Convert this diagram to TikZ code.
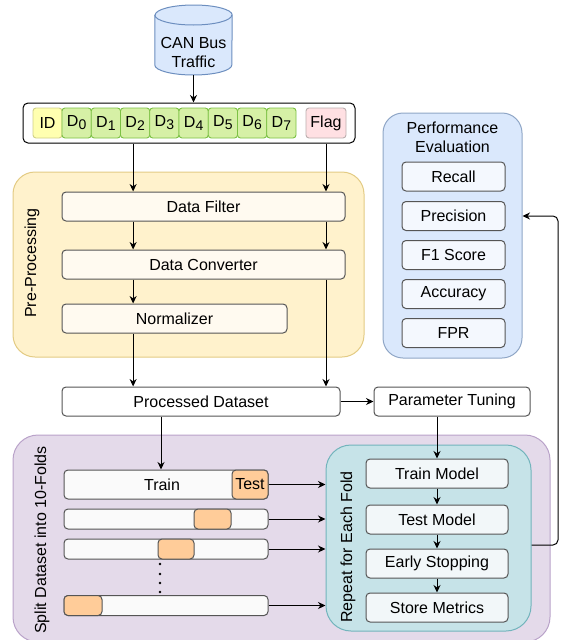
\documentclass[tikz,border=0pt]{standalone}
\usepackage{fontspec}
\setmainfont{Liberation Sans}
\usepackage{tikz}
\usetikzlibrary{calc, arrows.meta, positioning}

\definecolor{canfill}{HTML}{DAE8FC}
\definecolor{canline}{HTML}{6C8EBF}
\definecolor{idfill}{HTML}{FFFFB0}
\definecolor{idline}{HTML}{D0D088}
\definecolor{dfill}{HTML}{D6F0A6}
\definecolor{dline}{HTML}{7CC144}
\definecolor{flagfill}{HTML}{FFE0E3}
\definecolor{flagline}{HTML}{BBAFAF}
\definecolor{prefill}{HTML}{FFF2CC}
\definecolor{preline}{HTML}{E3CB84}
\definecolor{stepfill}{HTML}{FFFAF0}
\definecolor{perffill}{HTML}{DAE8FC}
\definecolor{perfline}{HTML}{8FA6C6}
\definecolor{metfill}{HTML}{F4F8FE}
\definecolor{splitfill}{HTML}{E4DAEA}
\definecolor{splitline}{HTML}{B9A2C9}
\definecolor{foldfill}{HTML}{FAFAFA}
\definecolor{testfill}{HTML}{FFCC99}
\definecolor{repfill}{HTML}{C6E3E8}
\definecolor{repline}{HTML}{72B4BC}
\definecolor{modfill}{HTML}{F2F7F9}
\definecolor{edge}{HTML}{555555}

\newcommand{\fsz}{\fontsize{16}{19}\selectfont}
\newcommand{\dsub}[1]{\raisebox{-3pt}{\fontsize{14}{14}\selectfont #1}}

\tikzset{
  txt/.style={font=\fsz, inner sep=0pt},
  group/.style={txt, draw=#1, line width=1pt, rounded corners=22pt},
  cell/.style={txt, draw, line width=0.9pt, rounded corners=3pt, minimum width=29.25pt, minimum height=30pt},
  stepbox/.style={txt, draw=edge, line width=1pt, rounded corners=4pt, minimum height=29pt},
  flow/.style={-{Stealth[length=7.5pt,width=7pt]}, line width=1pt},
}

\begin{document}
\begin{tikzpicture}[x=1pt, y=-1pt]
  \useasboundingbox (0,0) rectangle (561,640);
  \clip (0,0) rectangle (561,640);

  % source
  \node[txt, minimum width=77pt, minimum height=70pt] (can) at (193.5,40) {};
  \draw[draw=canline, fill=canfill, line width=1pt] (can.west |- 0,15) -- (can.west |- 0,65)
      arc (180:360:38.5pt and 10pt) -- (can.east |- 0,15) arc (0:180:38.5pt and 10pt) -- cycle;
  \draw[draw=canline, line width=1pt] (can.west |- 0,15) arc (180:360:38.5pt and 10pt);
  \node[txt, align=center] (canlbl) at (193.5,52) {CAN Bus\\Traffic};

  % frame
  \node[txt, draw, line width=1pt, rounded corners=5pt, fill=white, minimum width=332pt, minimum height=40pt] (rec) at (189,123) {};
  \node[cell, draw=idline, fill=idfill, minimum width=29pt] (id) at (47.5,123) {ID};
  \foreach \i in {0,...,7}
    \node[cell, draw=dline, fill=dfill] (d\i) at ({76.625+29.25*\i},123) {D\dsub{\i}};
  \node[cell, draw=flagline, fill=flagfill, minimum width=40pt] (flag) at (326,123) {Flag};
  \draw[flow] (can.south) -- (can.south |- rec.north);

  % pre-processing
  \node[group=preline, fill=prefill, minimum width=351pt, minimum height=185pt] (pre) at (188.5,264.5) {};
  \node[txt, rotate=90] (prelbl) at (32,263) {Pre-Processing};
  \node[stepbox, fill=stepfill, minimum width=283pt] (filter) at (203.5,206.5) {Data Filter};
  \node[stepbox, fill=stepfill, minimum width=283pt] (conv) at (203.5,264.5) {Data Converter};
  \node[stepbox, fill=stepfill, minimum width=225pt] (norm) at (174.5,318.5) {Normalizer};

  \node[stepbox, fill=white, minimum width=278pt] (proc) at (201,401.5) {Processed Dataset};
  \node[stepbox, fill=white, minimum width=156pt] (param) at (452,401.5) {Parameter Tuning};

  \draw[flow] ([xshift=-2pt]d2 |- rec.south) -- ([xshift=-2pt]d2 |- filter.north);
  \draw[flow] (flag |- rec.south) -- (flag |- filter.north);
  \draw[flow] ([xshift=-2pt]d2 |- filter.south) -- ([xshift=-2pt]d2 |- conv.north);
  \draw[flow] (flag |- filter.south) -- (flag |- conv.north);
  \draw[flow] ([xshift=-2pt]d2 |- conv.south) -- ([xshift=-2pt]d2 |- norm.north);
  \draw[flow] ([xshift=-2pt]d2 |- norm.south) -- ([xshift=-2pt]d2 |- proc.north);
  \draw[flow] (flag |- conv.south) -- (flag |- proc.north);
  \draw[flow] (proc.east) -- (param.west);

  % evaluation
  \node[group=perfline, fill=perffill, rounded corners=20pt, minimum width=139pt, minimum height=245pt] (perf) at (452.5,235.5) {};
  \node[txt, align=center] (perflbl) at (452.5,137.5) {Performance\\Evaluation};
  \foreach \n/\t/\y in {recall/Recall/176.5, prec/Precision/216, fone/F1 Score/255, acc/Accuracy/294, fpr/FPR/333}
    \node[stepbox, fill=metfill, minimum width=103pt] (\n) at (453.5,\y) {\t};

  % cross validation
  \node[group=splitline, fill=splitfill, rounded corners=25pt, minimum width=537pt, minimum height=207pt] (split) at (281.5,538.5) {};
  \node[txt, rotate=90] (splitlbl) at (42,540) {Split Dataset into 10-Folds};

  \node[stepbox, fill=foldfill, minimum width=204pt] (fold1) at (166,484.5) {\hspace*{-8pt}Train};
  \node[stepbox, fill=testfill, minimum width=36pt] (test1) at (250,484.5) {Test};
  \node[stepbox, fill=foldfill, minimum width=204pt, minimum height=20pt] (fold2) at (166,519) {};
  \node[stepbox, fill=testfill, minimum width=37pt, minimum height=20pt] (test2) at (212.5,519) {};
  \node[stepbox, fill=foldfill, minimum width=204pt, minimum height=20pt] (fold3) at (166,549) {};
  \node[stepbox, fill=testfill, minimum width=36pt, minimum height=20pt] (test3) at (176,549) {};
  \node[stepbox, fill=foldfill, minimum width=204pt, minimum height=20pt] (fold4) at (166,605.5) {};
  \node[stepbox, fill=testfill, minimum width=38pt, minimum height=20pt] (test4) at (83,605.5) {};
  \foreach \y in {564,574,583,592}
    \fill (160,\y) circle (1.4pt);

  \node[group=repline, fill=repfill, rounded corners=25pt, minimum width=205pt, minimum height=186pt] (repeat) at (428.5,538) {};
  \node[txt, rotate=90] (replbl) at (348,547) {Repeat for Each Fold};
  \node[stepbox, fill=modfill, minimum width=142pt] (trainm) at (437,473.5) {Train Model};
  \node[stepbox, fill=modfill, minimum width=142pt] (testm) at (437,519.5) {Test Model};
  \node[stepbox, fill=modfill, minimum width=142pt] (early) at (437,563.5) {Early Stopping};
  \node[stepbox, fill=modfill, minimum width=142pt] (store) at (437,607.5) {Store Metrics};

  \draw[flow] ([xshift=-40pt]proc.south) -- ([xshift=-40pt]proc.south |- fold1.north);
  \draw[flow] (trainm |- param.south) -- (trainm.north);
  \foreach \f in {fold1,fold2,fold3,fold4}
    \draw[flow] (\f.east) -- (\f.east -| repeat.west);
  \draw[flow] (trainm.south) -- (testm.north);
  \draw[flow] (testm.south) -- (early.north);
  \draw[flow] (early.south) -- (store.north);

  % back to the metrics
  \coordinate (fb) at (558,545);
  \draw[flow, rounded corners=5pt] (repeat.east |- fb) -- (fb) -- (fb |- prec) -- (perf.east |- prec);
\end{tikzpicture}
\end{document}
